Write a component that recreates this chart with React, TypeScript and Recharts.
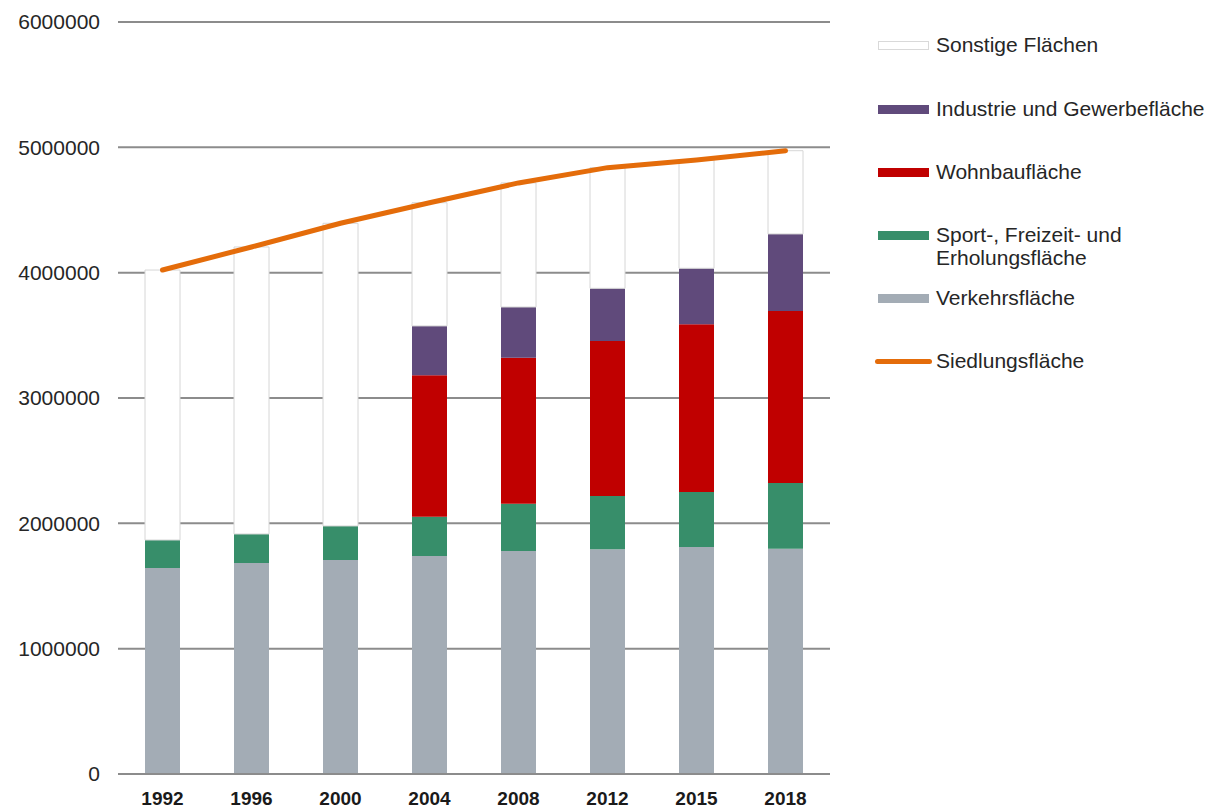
import { Bar, CartesianGrid, ComposedChart, Line, XAxis, YAxis } from "recharts";

const YEARS = ["1992", "1996", "2000", "2004", "2008", "2012", "2015", "2018"];

// Flächen in ha
const VERKEHR = [1644000, 1684000, 1707000, 1739000, 1779000, 1793000, 1811000, 1798000];
const SPORT = [223000, 231000, 272000, 314000, 378000, 425000, 439000, 524000];
const WOHNBAU = [0, 0, 0, 1128000, 1165000, 1237000, 1338000, 1372000];
const INDUSTRIE = [0, 0, 0, 394000, 404000, 420000, 447000, 615000];
const SONSTIGE = [2154000, 2290000, 2415000, 983000, 990000, 963000, 864000, 664000];
const SIEDLUNG = [4021000, 4205000, 4394000, 4558000, 4716000, 4838000, 4899000, 4973000];

const Y_TICKS = [0, 1000000, 2000000, 3000000, 4000000, 5000000, 6000000];

const COLOR = {
  verkehr: "#A3ACB5",
  sport: "#378E6A",
  wohnbau: "#C00000",
  industrie: "#604A7B",
  sonstige: "#FFFFFF",
  siedlung: "#E46C0A",
} as const;

const FONT = "'Liberation Sans', Arial, sans-serif";
const GRID = "#8C8C8C";

const data = YEARS.map((year, i) => ({
  year,
  verkehr: VERKEHR[i],
  sport: SPORT[i],
  wohnbau: WOHNBAU[i],
  industrie: INDUSTRIE[i],
  sonstige: SONSTIGE[i],
  siedlung: SIEDLUNG[i],
}));

type LegendItem = { label: string[]; color: string; top: number; kind: "box" | "line"; outline?: boolean };

const LEGEND: LegendItem[] = [
  { label: ["Sonstige Flächen"], color: COLOR.sonstige, top: 46, kind: "box", outline: true },
  { label: ["Industrie und Gewerbefläche"], color: COLOR.industrie, top: 110, kind: "box" },
  { label: ["Wohnbaufläche"], color: COLOR.wohnbau, top: 173, kind: "box" },
  { label: ["Sport-, Freizeit- und", "Erholungsfläche"], color: COLOR.sport, top: 236, kind: "box" },
  { label: ["Verkehrsfläche"], color: COLOR.verkehr, top: 299, kind: "box" },
  { label: ["Siedlungsfläche"], color: COLOR.siedlung, top: 362, kind: "line" },
];

function ChartLegend() {
  return (
    <>
      {LEGEND.map((item) => (
        <div key={item.label[0]} style={{ position: "absolute", left: 0, top: item.top - 12 }}>
          {item.kind === "box" ? (
            <div
              style={{
                position: "absolute",
                left: 878,
                top: 7,
                width: 51,
                height: 9,
                background: item.color,
                boxSizing: "border-box",
                border: item.outline ? "1px solid #D9D9D9" : "none",
              }}
            />
          ) : (
            <div
              style={{
                position: "absolute",
                left: 875,
                top: 9,
                width: 57,
                height: 5,
                borderRadius: 3,
                background: item.color,
              }}
            />
          )}
          <div
            style={{
              position: "absolute",
              left: 936,
              top: -1,
              width: 275,
              fontFamily: FONT,
              fontSize: 21,
              lineHeight: "23px",
              color: "#262626",
              whiteSpace: "nowrap",
            }}
          >
            {item.label.map((l) => (
              <div key={l}>{l}</div>
            ))}
          </div>
        </div>
      ))}
    </>
  );
}

export default function App() {
  return (
    <div style={{ position: "absolute", left: 0, top: 0, width: 1211, height: 812, background: "#fff" }}>
      <ComposedChart
        width={1211}
        height={812}
        data={data}
        margin={{ top: 22, right: 381, bottom: 0, left: 0 }}
        barSize={35}
      >
        <CartesianGrid vertical={false} stroke={GRID} strokeWidth={2} />
        <XAxis
          dataKey="year"
          height={38}
          axisLine={{ stroke: GRID, strokeWidth: 2 }}
          tickLine={false}
          tickSize={0}
          tickMargin={18}
          tick={{ fill: "#1A1A1A", fontSize: 19, fontWeight: 700, fontFamily: FONT }}
        />
        <YAxis
          width={118}
          domain={[0, 6000000]}
          ticks={Y_TICKS}
          interval={0}
          axisLine={false}
          tickLine={false}
          tickSize={0}
          tickMargin={18}
          tickFormatter={(v: number) => String(v)}
          tick={{ fill: "#262626", fontSize: 21, fontFamily: FONT }}
        />
        <Bar dataKey="verkehr" stackId="a" fill={COLOR.verkehr} isAnimationActive={false} />
        <Bar dataKey="sport" stackId="a" fill={COLOR.sport} isAnimationActive={false} />
        <Bar dataKey="wohnbau" stackId="a" fill={COLOR.wohnbau} isAnimationActive={false} />
        <Bar dataKey="industrie" stackId="a" fill={COLOR.industrie} isAnimationActive={false} />
        <Bar
          dataKey="sonstige"
          stackId="a"
          fill={COLOR.sonstige}
          stroke="#D6D6D6"
          strokeWidth={1}
          isAnimationActive={false}
        />
        <Line
          type="linear"
          dataKey="siedlung"
          stroke={COLOR.siedlung}
          strokeWidth={5}
          strokeLinecap="round"
          dot={false}
          activeDot={false}
          isAnimationActive={false}
        />
      </ComposedChart>
      <ChartLegend />
    </div>
  );
}
